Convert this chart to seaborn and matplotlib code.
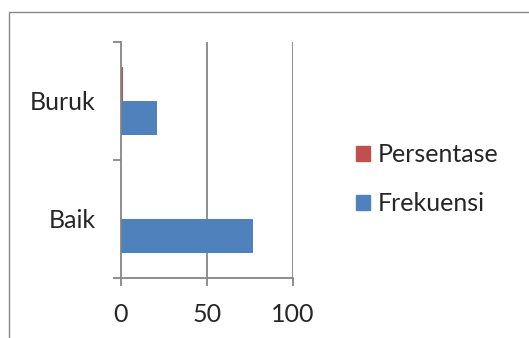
import pandas as pd
import matplotlib
matplotlib.use("Agg")
import matplotlib.pyplot as plt
import seaborn as sns
from matplotlib.patches import Rectangle

kategori = ["Buruk", "Baik"]
frekuensi = [21, 77]
persentase = [1.2, 0.2]
seri = ["Persentase", "Frekuensi"]
warna = {"Persentase": "#C0504D", "Frekuensi": "#4F81BD"}
x_ticks = [0, 50, 100]

df = pd.DataFrame({
    "Kategori": kategori * 2,
    "Seri": ["Frekuensi"] * 2 + ["Persentase"] * 2,
    "Nilai": frekuensi + persentase,
})

sns.set_style("white")
plt.rcParams["font.family"] = ["Lato", "DejaVu Sans"]
abu = "#868686"

fig = plt.figure(figsize=(5.29, 3.38), dpi=100)
ax = fig.add_axes([120.5 / 529, 1 - 278 / 338, (293 - 120.5) / 529, (278 - 42) / 338])

sns.barplot(data=df, y="Kategori", x="Nilai", hue="Seri", order=kategori,
            hue_order=seri, palette=warna, orient="h", width=0.58,
            saturation=1, linewidth=0, ax=ax, legend=False)

ax.set_xlim(0, 100)
ax.set_ylim(1.5, -0.5)
ax.set_xticks(x_ticks)
ax.set_xticklabels([str(v) for v in x_ticks], fontsize=18)
ax.set_yticks([-0.5, 0.5, 1.5])
ax.set_yticklabels(["", "", ""])
ax.set_yticks([0, 1], minor=True)
ax.set_yticklabels(kategori, minor=True, fontsize=18)
ax.tick_params(axis="y", which="major", length=6, width=1.3, color=abu, direction="out", left=True)
ax.tick_params(axis="y", which="minor", length=0, pad=18)
ax.tick_params(axis="x", length=6, width=1.3, color=abu, direction="out", bottom=True, pad=12)
ax.set_xlabel("")
ax.set_ylabel("")
ax.grid(False)
for v in x_ticks[1:]:
    ax.axvline(v, color=abu, lw=1.3, zorder=0)
for s in ["top", "right"]:
    ax.spines[s].set_visible(False)
for s in ["left", "bottom"]:
    ax.spines[s].set_color(abu)
    ax.spines[s].set_linewidth(1.3)

# legend
handles = [Rectangle((0, 0), 1, 1, color=warna[s]) for s in seri]
fig.legend(handles, seri, loc="upper left", bbox_to_anchor=(356 / 529, 1 - 143 / 338),
           frameon=False, fontsize=18, handlelength=0.56, handleheight=0.56,
           handletextpad=0.3, labelspacing=1.05, borderpad=0, borderaxespad=0)

# chart border
fig.patches.append(Rectangle((9 / 529, -0.1), 1.2, 1.1 - 12 / 338, transform=fig.transFigure,
                             fill=False, edgecolor=abu, lw=1))

plt.savefig("out.png", dpi=100)
